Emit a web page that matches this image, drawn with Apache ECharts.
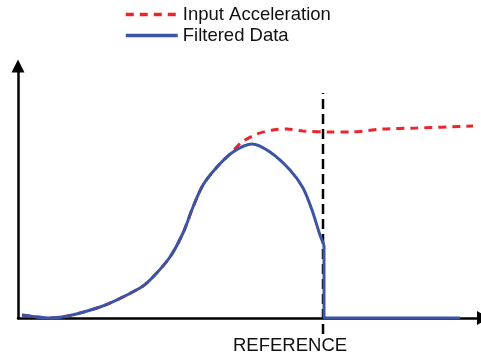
<!DOCTYPE html>
<html>
<head>
<meta charset="utf-8">
<script src="https://cdn.jsdelivr.net/npm/echarts@6/dist/echarts.min.js"></script>
<style>
  html, body { margin: 0; padding: 0; background: #fff; }
  #chart { width: 481px; height: 358px; }
</style>
</head>
<body>
<div id="chart"></div>
<script>
  // values (arbitrary units)
  const inputAccel = [
    [4, 3], [32, 0], [82, 11], [122, 30], [134, 40], [152, 61], [165, 85], [175, 111],
    [185, 133], [199, 151], [213, 165], [224, 176], [239, 184], [255, 188], [269, 189],
    [285, 187], [312, 186], [332, 186], [365, 189], [399, 190], [455, 192],
  ];
  const filteredCurve = [
    [4, 3], [32, 0], [82, 11], [122, 30], [134, 40], [152, 61], [165, 85], [175, 111],
    [185, 133], [199, 151], [215, 166], [234, 174], [252, 166], [272, 148], [285, 130],
    [294, 108], [302, 83], [306, 73],
  ];
  const filteredCut = [[306, 73], [306, 0], [442, 0]];
  const referenceX = 305;
  const referenceSpan = [-16, 225];

  const RED = '#e8262b';
  const BLUE = '#3b55a4';
  const FONT = 'Liberation Sans, Arial, sans-serif';

  const chart = echarts.init(document.getElementById('chart'));
  chart.setOption({
    animation: false,
    legend: {
      orient: 'vertical',
      left: 124,
      top: 4,
      padding: 0,
      itemWidth: 52,
      itemHeight: 14,
      itemGap: 0,
      itemStyle: { opacity: 0 },
      lineStyle: { width: 3.5 },
      data: ['Input Acceleration', 'Filtered Data'],
      textStyle: { fontFamily: FONT, fontSize: 18.5, color: '#111', lineHeight: 21 },
    },
    grid: { left: 18, right: 0, top: 66, bottom: 40 },
    xAxis: {
      type: 'value',
      min: 0,
      max: 463,
      axisLine: {
        lineStyle: { color: '#000', width: 2.5 },
        symbol: ['none', 'triangle'],
        symbolSize: [14, 13],
        symbolOffset: [0, 2.5],
      },
      axisTick: { show: false },
      axisLabel: { show: false },
      splitLine: { show: false },
    },
    yAxis: {
      type: 'value',
      min: 0,
      max: 252,
      axisLine: {
        show: true,
        lineStyle: { color: '#000', width: 2.5 },
        symbol: ['none', 'triangle'],
        symbolSize: [13, 13],
      },
      axisTick: { show: false },
      axisLabel: { show: false },
      splitLine: { show: false },
    },
    graphic: [{
      type: 'text',
      left: 233,
      top: 336,
      style: { text: 'REFERENCE', fontFamily: FONT, fontSize: 18.5, fill: '#111' },
    }],
    series: [
      {
        name: 'reference',
        type: 'line',
        data: referenceSpan.map((y) => [referenceX, y]),
        showSymbol: false,
        clip: false,
        silent: true,
        lineStyle: { color: '#000', width: 2.5, type: [10, 5] },
        z: 1,
      },
      {
        name: 'Input Acceleration',
        type: 'line',
        data: inputAccel,
        smooth: 0.3,
        showSymbol: false,
        symbol: 'none',
        itemStyle: { color: RED },
        lineStyle: { color: RED, width: 3, type: [8, 6] },
        z: 2,
      },
      {
        name: 'Filtered Data',
        type: 'line',
        data: filteredCurve,
        smooth: 0.3,
        showSymbol: false,
        symbol: 'none',
        itemStyle: { color: BLUE },
        lineStyle: { color: BLUE, width: 3 },
        z: 3,
      },
      {
        name: 'Filtered Data',
        type: 'line',
        data: filteredCut,
        showSymbol: false,
        symbol: 'none',
        itemStyle: { color: BLUE },
        lineStyle: { color: BLUE, width: 3 },
        z: 3,
      },
    ],
  });
</script>
</body>
</html>
